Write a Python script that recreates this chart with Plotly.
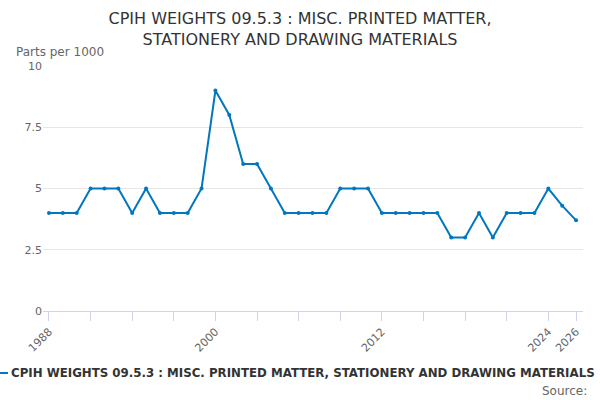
import plotly.graph_objects as go

years = list(range(1988, 2027))
weights = [4, 4, 4, 5, 5, 5, 4, 5, 4, 4, 4, 5, 9, 8, 6, 6, 5, 4, 4,
           4, 4, 5, 5, 5, 4, 4, 4, 4, 4, 3, 3, 4, 3, 4, 4, 4, 5, 4.3, 3.7]

x_labels = [1988, 2000, 2012, 2024, 2026]
y_ticks = [0, 2.5, 5, 7.5, 10]
y_tick_text = ["0", "2.5", "5", "7.5", "10"]

series_name = "CPIH WEIGHTS 09.5.3 : MISC. PRINTED MATTER, STATIONERY AND DRAWING MATERIALS"
line_col = "#0077c0"
font = "DejaVu Sans"

fig = go.Figure()
fig.add_trace(go.Scatter(
    x=years, y=weights, mode="lines+markers",
    line=dict(color=line_col, width=2),
    marker=dict(color=line_col, size=4),
    showlegend=False,
))

fig.update_layout(
    width=600, height=400,
    margin=dict(l=43, r=17, t=66, b=89),
    paper_bgcolor="white", plot_bgcolor="white",
    font=dict(family=font, color="#666666", size=11),
    title=dict(
        text="CPIH WEIGHTS 09.5.3 : MISC. PRINTED MATTER,<br>STATIONERY AND DRAWING MATERIALS",
        x=0.5, xanchor="center", y=0.94, yanchor="middle",
        font=dict(family=font, size=16, color="#333333"),
    ),
    xaxis=dict(
        range=[1987.57, 2026.5],
        tickmode="array", tickvals=x_labels, ticktext=[str(v) for v in x_labels],
        tickangle=-45, ticks="outside", ticklen=9, tickcolor="#ccd6eb",
        showline=True, linecolor="#ccd6eb", linewidth=1,
        showgrid=False, zeroline=False,
        minor=dict(tickmode="linear", tick0=1988, dtick=3, ticks="outside",
                   ticklen=9, tickcolor="#ccd6eb", showgrid=False),
        tickfont=dict(size=11, color="#666666"),
    ),
    yaxis=dict(
        range=[0, 10], tickvals=y_ticks, ticktext=y_tick_text,
        showgrid=True, gridcolor="#e6e6e6", zeroline=False,
        ticks="", tickfont=dict(size=11, color="#666666"),
    ),
)

fig.add_annotation(
    text="Parts per 1000", xref="paper", yref="paper",
    x=-0.0537, y=1.057, xanchor="left", yanchor="middle", showarrow=False,
    font=dict(family=font, size=12, color="#666666"),
)

# legend drawn by hand so it can run off the left edge like the original
fig.add_shape(type="line", xref="paper", yref="paper",
              x0=-0.0796, x1=-0.0648, y0=-0.253, y1=-0.253,
              line=dict(color=line_col, width=2))
fig.add_annotation(
    text="<b>" + series_name + "</b>", xref="paper", yref="paper",
    x=-0.0593, y=-0.253, xanchor="left", yanchor="middle", showarrow=False,
    borderpad=0, borderwidth=0,
    font=dict(family=font, size=11.8, color="#333333"),
)
fig.add_annotation(
    text="Source:", xref="paper", yref="paper",
    x=1.011, y=-0.326, xanchor="right", yanchor="middle", showarrow=False,
    font=dict(family=font, size=12, color="#666666"),
)

# drop the browser's default 8px body margin so the chart sits at 0,0
fig.write_html("out.html", config={"displayModeBar": False},
               post_script="document.body.style.margin='0';")
